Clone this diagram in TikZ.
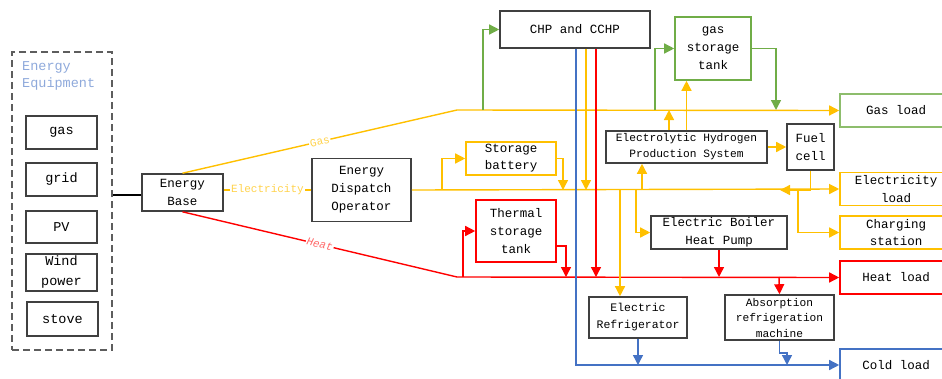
\documentclass[tikz,border=0pt]{standalone}
\usepackage{fontspec}
\setmainfont{Liberation Mono}
\usetikzlibrary{arrows.meta,calc}
\definecolor{yel}{HTML}{FFC000}
\definecolor{yellab}{HTML}{FFD34D}
\definecolor{grn}{HTML}{70AD47}
\definecolor{rd}{HTML}{FF0000}
\definecolor{rdlab}{HTML}{FF6B6B}
\definecolor{blu}{HTML}{4472C4}
\definecolor{boxc}{HTML}{404040}
\definecolor{eqtext}{HTML}{8EA9DB}
\begin{document}
\begin{tikzpicture}[x=1pt,y=-1pt,
  box/.style={draw=boxc, line width=1.6pt, align=center, inner sep=0pt, font=\fontsize{12.5}{18}\selectfont},
  eqbox/.style={box, minimum width=71pt, font=\fontsize{13.5}{19}\selectfont},
  load/.style={box, minimum width=112pt},
  ar/.style={-{Triangle[length=10pt,width=10pt]}},
  yl/.style={draw=yel, line width=1.4pt},
  gl/.style={draw=grn, line width=1.4pt},
  rl/.style={draw=rd, line width=1.4pt},
  bl/.style={draw=blu, line width=1.4pt},
  lab/.style={sloped, fill=white, inner sep=1pt, font=\fontsize{11}{12}\selectfont}]
\useasboundingbox (0,0) rectangle (942,378);

% left equipment panel
\node[draw=boxc!85, dashed, dash pattern=on 7pt off 4pt, line width=1.6pt, minimum width=100pt, minimum height=298pt] (equip) at (62,201) {};
\node[anchor=north west, align=left, text=eqtext, inner sep=0pt, font=\fontsize{13.5}{17}\selectfont] (eqlab) at (22,61) {Energy\\Equipment};
\node[eqbox, minimum height=33pt] (gas) at (61.5,132.5) {gas};
\node[eqbox, minimum height=33pt] (grid) at (61.5,179.5) {grid};
\node[eqbox, minimum height=32pt] (pv) at (61.5,227) {PV};
\node[eqbox, minimum height=37pt, font=\fontsize{13.5}{20}\selectfont] (wind) at (61.5,272.5) {Wind\\power};
\node[eqbox, minimum height=34pt] (stove) at (62.5,319) {stove};

% main nodes
\node[box, minimum width=81pt, minimum height=37pt] (eb) at (182.5,192.5) {Energy\\Base};
\node[box, minimum width=99pt, minimum height=63pt] (dsp) at (361.5,190) {Energy\\Dispatch\\Operator};
\node[box, draw=yel, minimum width=90pt, minimum height=33pt, font=\fontsize{12.5}{17}\selectfont] (bat) at (511,158.5) {Storage\\battery};
\node[box, minimum width=150pt, minimum height=37pt] (chp) at (575,29.5) {CHP and CCHP};
\node[box, draw=rd, minimum width=80pt, minimum height=62pt] (tst) at (516,231) {Thermal\\storage\\tank};
\node[box, draw=grn, minimum width=76pt, minimum height=63pt] (gst) at (713,48.5) {gas\\storage\\tank};
\node[box, minimum width=161pt, minimum height=32pt, font=\fontsize{11.2}{16}\selectfont] (ehp) at (686.5,147) {Electrolytic Hydrogen\\Production System};
\node[box, minimum width=47pt, minimum height=46pt] (fc) at (810.5,147) {Fuel\\cell};
\node[box, minimum width=136pt, minimum height=33pt] (ebhp) at (719,232.5) {Electric Boiler\\Heat Pump};
\node[box, minimum width=98pt, minimum height=41pt, font=\fontsize{11.5}{17}\selectfont] (eref) at (638,317.5) {Electric\\Refrigerator};
\node[box, minimum width=109pt, minimum height=45pt, font=\fontsize{11.2}{15.5}\selectfont] (abs) at (779.5,317.5) {Absorption\\refrigeration\\machine};

% loads
\node[load, draw=grn!80, minimum height=33pt] (gasload) at (896,110.5) {Gas load};
\node[load, draw=yel, minimum height=33pt] (elecload) at (896,189) {Electricity\\load};
\node[load, draw=yel, minimum height=33pt, font=\fontsize{12.5}{17}\selectfont] (charge) at (896,232.5) {Charging\\station};
\node[load, draw=rd, minimum height=33pt] (heatload) at (896,277.5) {Heat load};
\node[load, draw=blu, minimum height=32pt] (coldload) at (896,365) {Cold load};

% junction coordinates
\coordinate (g1) at (457,110);
\coordinate (h1) at (457,277);
\coordinate (gchp) at (483,110);
\coordinate (ggst) at (655,110);
\coordinate (ggin) at (776,110);
\coordinate (gehp) at (669,110);
\coordinate (jbat) at (442,190);
\coordinate (jbatin) at (563,190);
\coordinate (jchpy) at (586,190);
\coordinate (jref) at (620,190);
\coordinate (jboil) at (636,190);
\coordinate (jehp) at (642,190);
\coordinate (jfc) at (780,190);
\coordinate (jchg) at (798,190);
\coordinate (htst) at (463,277);
\coordinate (htin) at (566,277);
\coordinate (hchp) at (596,277);
\coordinate (habs) at (779,277);
\coordinate (cchp) at (576,365);
\coordinate (cabs) at (787,365);

% energy base links
\draw[draw=black, line width=1.3pt] (equip.east |- 0,195) -- (eb.west |- 0,195);
\draw[yl, ar] (eb.north) -- node[lab, text=yellab]{Gas} (g1) -- (gasload.west);
\draw[yl] (eb.east |- 0,190) -- node[lab, text=yellab]{Electricity} (dsp.west);
\draw[rl, ar] (eb.south) -- node[lab, text=rdlab, font=\fontsize{11}{12}\itshape]{Heat} (h1) -- (heatload.west);

% electricity bus
\draw[yl, ar] (dsp.east) -- (elecload.west);
\draw[yl, ar] (jbat) |- (bat.west);
\draw[yl, ar] (bat.east) -| (jbatin);
\draw[yl, ar] (jehp) -- (jehp |- ehp.south);
\draw[yl, ar] (jboil) |- (ebhp.west);
\draw[yl, ar] (jref) -- (jref |- eref.north);
\draw[yl, ar] (fc.south) |- (jfc);
\draw[yl, ar] (jchg) |- (charge.west);
\draw[yl, ar] (ehp.east) -- (fc.west);
\draw[yl, ar] (ehp.north) -- (ehp.north |- gst.south);
\draw[yl, ar] (gehp |- ehp.north) -- (gehp);

% gas
\draw[gl, ar] (gchp) |- (chp.west);
\draw[gl, ar] (ggst) |- (gst.west);
\draw[gl, ar] (gst.east) -| (ggin);

% CHP outputs
\draw[bl, ar] (cchp |- chp.south) -- (cchp) -- (coldload.west);
\draw[yl, ar] (jchpy |- chp.south) -- (jchpy);
\draw[rl, ar] (hchp |- chp.south) -- (hchp);

% heat
\draw[rl, ar] (htst) |- (tst.west);
\draw[rl, ar] (tst.east |- 0,246) -| (htin);
\draw[rl, ar] (ebhp.south) -- (ebhp.south |- h1);
\draw[rl, ar] (habs) -- (abs.north);

% cold
\draw[bl, ar] (eref.south) -- (eref.south |- cchp);
\draw[bl, ar] (abs.south) -- ++(0,12) -| (cabs);
\end{tikzpicture}
\end{document}
